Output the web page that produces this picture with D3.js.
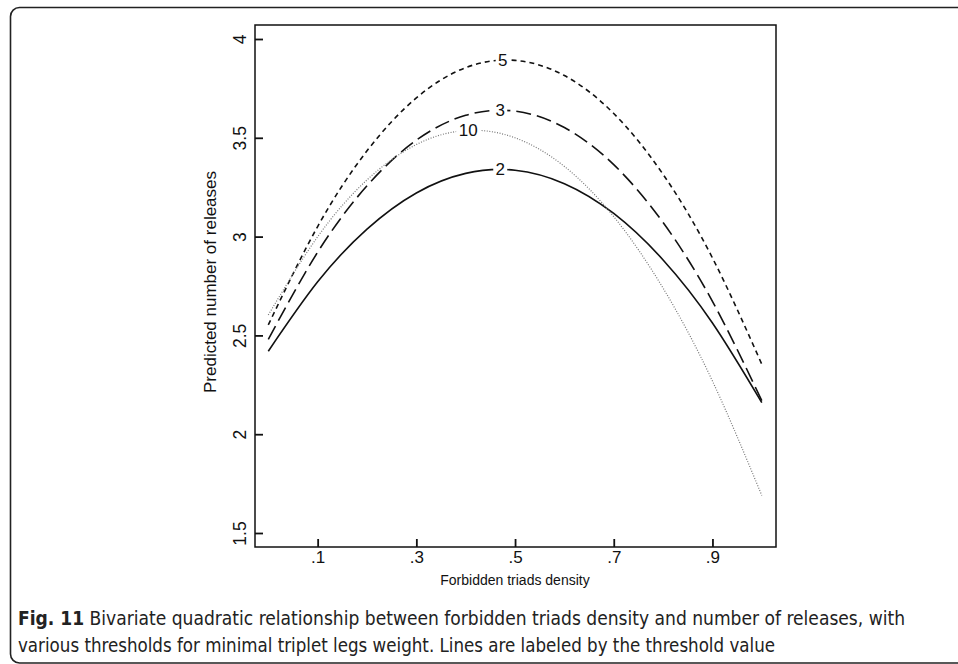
<!DOCTYPE html>
<html><head><meta charset="utf-8">
<script src="https://cdn.jsdelivr.net/npm/d3@7"></script>
<style>body{margin:0;background:#fff}svg{display:block}</style>
</head><body>
<script>
const xs = [0,0.1,0.2,0.3,0.4,0.5,0.6,0.7,0.8,0.9,1.0];
const s2  = [2.42,2.771,3.038,3.221,3.320,3.336,3.268,3.117,2.882,2.563,2.16];
const s3  = [2.48,2.921,3.257,3.488,3.614,3.635,3.552,3.364,3.071,2.672,2.17];
const s5  = [2.553,3.051,3.434,3.702,3.855,3.892,3.815,3.623,3.315,2.892,2.354];
const s10 = [2.603,2.999,3.287,3.466,3.537,3.500,3.355,3.101,2.739,2.269,1.690];
const seriesNames = ["2","3","5","10"];
const labelPos = {"2":[0.47,3.34],"3":[0.47,3.64],"5":[0.475,3.893],"10":[0.405,3.54]};
const xTicks = [0.1,0.3,0.5,0.7,0.9];
const xTickLabels = [".1",".3",".5",".7",".9"];
const yTicks = [1.5,2,2.5,3,3.5,4];
const yTickLabels = ["1.5","2","2.5","3","3.5","4"];

const W=958,H=664;
const svg=d3.select("body").append("svg").attr("width",W).attr("height",H);
svg.append("rect").attr("x",10.5).attr("y",7.5).attr("width",1000).attr("height",655.5)
  .attr("rx",9).attr("fill","none").attr("stroke","#222").attr("stroke-width",1.6);

const L=255,R=776,T=25,B=547;
const x=d3.scaleLinear().domain([0,1]).range([268.3,761.8]);
const y=d3.scaleLinear().domain([1.5,4]).range([533,39]);

svg.append("rect").attr("x",L).attr("y",T).attr("width",R-L).attr("height",B-T)
  .attr("fill","none").attr("stroke","#111").attr("stroke-width",1.5);

const font="'Liberation Sans', Arial, Helvetica, sans-serif";
const xAxis=d3.axisBottom(x).tickValues(xTicks).tickFormat((d,i)=>xTickLabels[i]).tickSize(-8).tickPadding(6);
const gx=svg.append("g").attr("transform",`translate(0,${B})`).call(xAxis);
gx.select(".domain").remove();
gx.selectAll("line").attr("stroke","#111").attr("stroke-width",1.8);
gx.selectAll("text").attr("font-family",font).attr("font-size",17).attr("fill","#111").attr("y",4).attr("dy","0.71em");

const yAxis=d3.axisLeft(y).tickValues(yTicks).tickFormat((d,i)=>yTickLabels[i]).tickSize(-8).tickPadding(0);
const gy=svg.append("g").attr("transform",`translate(${L},0)`).call(yAxis);
gy.select(".domain").remove();
gy.selectAll("line").attr("stroke","#111").attr("stroke-width",1.8);
gy.selectAll("text").attr("font-family",font).attr("font-size",17.5).attr("fill","#111")
  .attr("x",0).attr("y",0).attr("dy",null)
  .attr("transform","translate(-9,0) rotate(-90)").attr("text-anchor","middle");

svg.append("text").attr("x",515).attr("y",585).attr("text-anchor","middle")
  .attr("font-family",font).attr("font-size",14).attr("fill","#111").text("Forbidden triads density");
svg.append("text").attr("transform","translate(216,282) rotate(-90)").attr("text-anchor","middle")
  .attr("font-family",font).attr("font-size",17).attr("fill","#111").text("Predicted number of releases");

const line=d3.line().x((d,i)=>x(xs[i])).y(d=>y(d)).curve(d3.curveNatural);
const styles={
 "2":{data:s2,stroke:"#111",w:1.6,dash:null},
 "3":{data:s3,stroke:"#111",w:1.6,dash:"15,6"},
 "5":{data:s5,stroke:"#111",w:1.6,dash:"5,4"},
 "10":{data:s10,stroke:"#777",w:1.2,dash:"1,1.6"}
};
const gl=svg.append("g");
seriesNames.forEach(n=>{
  const s=styles[n];
  gl.append("path").attr("d",line(s.data)).attr("fill","none").attr("stroke",s.stroke)
    .attr("stroke-width",s.w).attr("stroke-dasharray",s.dash);
});
seriesNames.forEach(n=>{
  const [lx,ly]=labelPos[n];
  const w=n.length*10+4;
  svg.append("rect").attr("x",x(lx)-w/2).attr("y",y(ly)-9).attr("width",w).attr("height",18).attr("fill","#fff");
  svg.append("text").attr("x",x(lx)).attr("y",y(ly)+6).attr("text-anchor","middle")
    .attr("font-family",font).attr("font-size",17).attr("fill","#111").text(n);
});

const cfont="'DejaVu Sans Condensed','Open Sans',sans-serif";
const c1=svg.append("text").attr("x",18).attr("y",625).attr("font-family",cfont).attr("font-size",17).attr("fill","#222");
c1.append("tspan").attr("font-weight","bold").text("Fig. 11");
c1.append("tspan").text(" Bivariate quadratic relationship between forbidden triads density and number of releases, with");
const c2=svg.append("text").attr("x",18).attr("y",652).attr("font-family",cfont).attr("font-size",17).attr("fill","#222")
  .text("various thresholds for minimal triplet legs weight. Lines are labeled by the threshold value");
const l1=c1.node().getComputedTextLength(), l2=c2.node().getComputedTextLength();
const f=(887/l1+757/l2)/2;
c1.attr("font-size",17*f).attr("textLength",887).attr("lengthAdjust","spacingAndGlyphs");
c2.attr("font-size",17*f).attr("textLength",757).attr("lengthAdjust","spacingAndGlyphs");
</script>
</body></html>
